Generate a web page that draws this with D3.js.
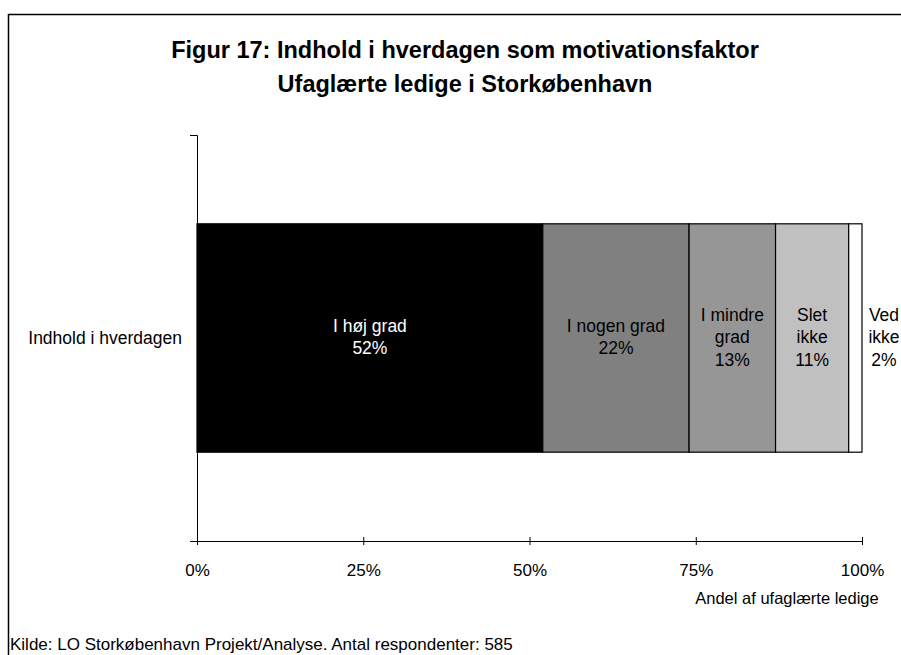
<!DOCTYPE html>
<html>
<head>
<meta charset="utf-8">
<script src="https://cdn.jsdelivr.net/npm/d3@7"></script>
<style>
body { margin:0; background:#fff; }
svg { font-family: "Liberation Sans", Arial, sans-serif; }
.title { font-weight:bold; font-size:23.5px; }
.axis text { font-size:17px; fill:#000; font-family:"Liberation Sans", Arial, sans-serif; }
.seg { font-size:17.5px; }
</style>
</head>
<body>
<svg id="graph"></svg>
<script>
// data
var categories = ["Indhold i hverdagen"];
var seriesNames = [["I høj grad"], ["I nogen grad"], ["I mindre", "grad"], ["Slet", "ikke"], ["Ved", "ikke"]];
var seriesValues = [52, 22, 13, 11, 2];
var seriesColors = ["#000000", "#808080", "#969696", "#c0c0c0", "#ffffff"];
var labelColors = ["#ffffff", "#000000", "#000000", "#000000", "#000000"];
var xTicks = [0, 0.25, 0.5, 0.75, 1];

var screen = {width:901, height:655};
var margins = {left:197, right:39, top:135, bottom:114};

var svg = d3.select("#graph")
    .attr("width", screen.width)
    .attr("height", screen.height);

// frame around chart area (cut at right/bottom like the original)
svg.append("path")
    .attr("d", "M8.5," + (screen.height + 5) + "V14.5H" + (screen.width + 5))
    .attr("fill", "none")
    .attr("stroke", "#000")
    .attr("stroke-width", 1.5);

var xScale = d3.scaleLinear()
    .domain([0, 1])
    .range([margins.left, screen.width - margins.right]);

var yScale = d3.scaleBand()
    .domain(categories)
    .range([margins.top, screen.height - margins.bottom])
    .padding(0.28);

// title
var titles = ["Figur 17: Indhold i hverdagen som motivationsfaktor", "Ufaglærte ledige i Storkøbenhavn"];
svg.selectAll(".title")
    .data(titles)
    .enter()
    .append("text")
    .classed("title", true)
    .attr("text-anchor", "middle")
    .attr("x", 465)
    .attr("y", function(d, i) { return 58 + i * 34; })
    .text(function(d) { return d; });

// stack the values
var stacked = [];
var total = d3.sum(seriesValues);
var acc = 0;
seriesValues.forEach(function(v, i) {
    stacked.push({start: acc / total, end: (acc + v) / total, value: v, i: i});
    acc += v;
});

var bars = svg.append("g");
categories.forEach(function(cat) {
    bars.selectAll("rect")
        .data(stacked)
        .enter()
        .append("rect")
        .attr("x", function(d) { return xScale(d.start); })
        .attr("width", function(d) { return xScale(d.end) - xScale(d.start); })
        .attr("y", yScale(cat))
        .attr("height", yScale.bandwidth())
        .attr("fill", function(d) { return seriesColors[d.i]; })
        .attr("stroke", "#000")
        .attr("stroke-width", 1.2);

    var yMid = yScale(cat) + yScale.bandwidth() / 2;
    var labels = bars.selectAll(".seg")
        .data(stacked)
        .enter()
        .append("text")
        .classed("seg", true)
        .attr("text-anchor", "middle")
        .attr("fill", function(d) { return labelColors[d.i]; })
        .attr("x", function(d) {
            // last (tiny) slice is labelled outside the bar
            if (d.i == stacked.length - 1) return xScale(d.end) + 22;
            return (xScale(d.start) + xScale(d.end)) / 2;
        });
    labels.each(function(d) {
        var lines = seriesNames[d.i].concat([d.value + "%"]);
        var y0 = yMid - (lines.length - 1) * 22.5 / 2 + 5;
        d3.select(this).selectAll("tspan")
            .data(lines)
            .enter()
            .append("tspan")
            .attr("x", d3.select(this).attr("x"))
            .attr("y", function(l, j) { return y0 + j * 22.5; })
            .text(function(l) { return l; });
    });
});

// axes
var xAxis = d3.axisBottom(xScale)
    .tickValues(xTicks)
    .tickFormat(d3.format(".0%"))
    .tickSizeInner(4)
    .tickSizeOuter(0)
    .tickPadding(19);

var gx = svg.append("g")
    .classed("axis", true)
    .attr("transform", "translate(0," + (screen.height - margins.bottom) + ")")
    .call(xAxis);
gx.select(".domain").attr("d", "M" + (margins.left - 6) + ",0.5H" + xScale(1)).attr("stroke", "#000");
gx.selectAll(".tick line").attr("y1", -4).attr("y2", 4).attr("stroke", "#000");

var yAxis = d3.axisLeft(yScale)
    .tickSizeInner(0)
    .tickSizeOuter(7)
    .tickPadding(15);

var gy = svg.append("g")
    .classed("axis", true)
    .attr("transform", "translate(" + margins.left + ",0)")
    .call(yAxis);
gy.select(".domain").attr("stroke", "#000");
gy.selectAll("text").style("font-size", "17.5px");

// axis title and source
svg.append("text")
    .attr("x", 787)
    .attr("y", 604)
    .attr("text-anchor", "middle")
    .style("font-size", "16.5px")
    .text("Andel af ufaglærte ledige");

svg.append("text")
    .attr("x", 10)
    .attr("y", 650)
    .style("font-size", "17px")
    .text("Kilde: LO Storkøbenhavn Projekt/Analyse. Antal respondenter: 585");
</script>
</body>
</html>
